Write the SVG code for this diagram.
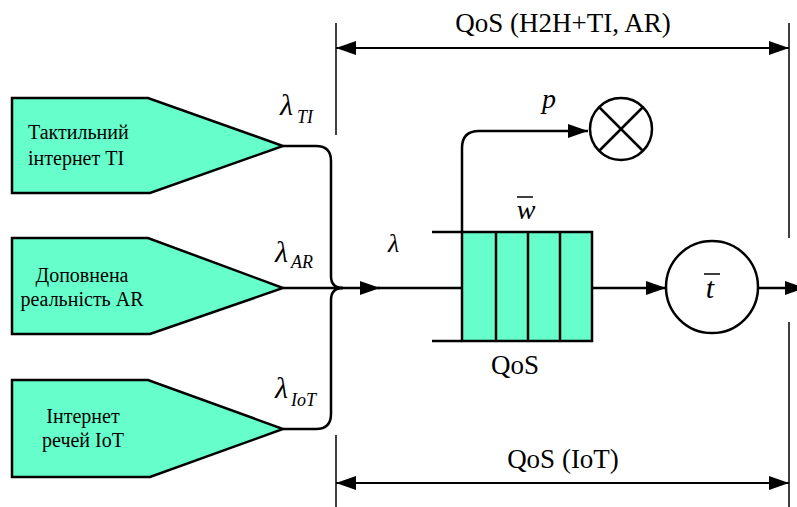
<svg xmlns="http://www.w3.org/2000/svg" width="797" height="507" viewBox="0 0 797 507">
<defs>
<marker id="ah" markerUnits="userSpaceOnUse" markerWidth="22" markerHeight="16" refX="20" refY="7" orient="auto-start-reverse">
<path d="M0,0 L20,7 L0,14 z" fill="#000"/>
</marker>
<style>
.src{fill:#66FFCC;stroke:#000;stroke-width:2.5;stroke-linejoin:miter}
.con{fill:none;stroke:#000;stroke-width:2.5}
.dim{fill:none;stroke:#000;stroke-width:2}
.tick{fill:none;stroke:#000;stroke-width:1.5}
text{font-family:'Liberation Serif','DejaVu Serif',serif}
</style>
</defs>
<rect width="797" height="507" fill="#fff"/>
<g fill="#000">

<g id="src-ti" font-size="20">
<polygon class="src" points="12,98 148,98 283,146 150,193 12,193"/>
<text x="28" y="139">Тактильний</text>
<text x="28" y="165">інтернет TI</text>
</g>
<g id="src-ar" font-size="20">
<polygon class="src" points="12,238 148,238 283,288 150,334 12,334"/>
<text x="82" y="282" text-anchor="middle">Доповнена</text>
<text x="82" y="306" text-anchor="middle">реальність AR</text>
</g>
<g id="src-iot" font-size="20">
<polygon class="src" points="12,380 148,380 283,429 150,477 12,477"/>
<text x="83" y="423" text-anchor="middle">Інтернет</text>
<text x="83" y="447" text-anchor="middle">речей IoT</text>
</g>

<g id="queue">
<rect x="462" y="232" width="130" height="109" fill="#66FFCC" stroke="#000" stroke-width="2.5"/>
<line x1="496" y1="232" x2="496" y2="341" stroke="#000" stroke-width="2.5"/>
<line x1="528" y1="232" x2="528" y2="341" stroke="#000" stroke-width="2.5"/>
<line x1="560" y1="232" x2="560" y2="341" stroke="#000" stroke-width="2.5"/>
<line x1="432" y1="232" x2="462" y2="232" stroke="#000" stroke-width="2.5"/>
<line x1="432" y1="341" x2="462" y2="341" stroke="#000" stroke-width="2.5"/>
<text x="526" y="219" font-size="28" font-style="italic" text-anchor="middle">w</text>
<line x1="517" y1="197" x2="533" y2="197" stroke="#000" stroke-width="1.5"/>
<text x="515" y="374" font-size="27" text-anchor="middle">QoS</text>
</g>

<g id="drop">
<circle cx="621" cy="129" r="31" fill="#fff" stroke="#000" stroke-width="2.5"/>
<line x1="599" y1="107" x2="643" y2="151" stroke="#000" stroke-width="2.5"/>
<line x1="643" y1="107" x2="599" y2="151" stroke="#000" stroke-width="2.5"/>
</g>

<g id="server">
<circle cx="712" cy="287" r="46" fill="#fff" stroke="#000" stroke-width="2.5"/>
<text x="710" y="298" font-size="30" font-style="italic" text-anchor="middle">t</text>
<line x1="704" y1="274" x2="720" y2="274" stroke="#000" stroke-width="1.5"/>
</g>

<g id="connectors">
<path class="con" d="M283,146 H316 Q331,146 331,161 V276 Q331,288 343,288"/>
<path class="con" d="M283,429 H316 Q331,429 331,414 V300 Q331,288 343,288"/>
<path class="con" d="M283,288 H380" marker-end="url(#ah)"/>
<path class="con" d="M378,288 H462"/>
<path class="con" d="M462,232 V148 Q462,131 479,131 H588" marker-end="url(#ah)"/>
<path class="con" d="M592,288 H666" marker-end="url(#ah)"/>
<path class="con" d="M758,288 H805" marker-end="url(#ah)"/>
</g>

<g id="dimensions" font-size="27">
<line class="tick" x1="336" y1="23" x2="336" y2="135"/>
<line class="tick" x1="789" y1="23" x2="789" y2="238"/>
<line class="dim" x1="336" y1="48" x2="789" y2="48" marker-start="url(#ah)" marker-end="url(#ah)"/>
<text x="563" y="32" text-anchor="middle">QoS (H2H+TI, AR)</text>
<line class="tick" x1="336" y1="435" x2="336" y2="507"/>
<line class="tick" x1="789" y1="322" x2="789" y2="507"/>
<line class="dim" x1="336" y1="483" x2="789" y2="483" marker-start="url(#ah)" marker-end="url(#ah)"/>
<text x="563" y="468" text-anchor="middle">QoS (IoT)</text>
</g>

<g id="rates" font-style="italic">
<text x="280" y="115" font-size="30">λ</text>
<text x="297" y="123" font-size="18">TI</text>
<text x="275" y="262" font-size="30">λ</text>
<text x="291" y="268" font-size="18">AR</text>
<text x="275" y="398" font-size="30">λ</text>
<text x="291" y="406" font-size="18">IoT</text>
<text x="388" y="252" font-size="26">λ</text>
<text x="542" y="108" font-size="28">p</text>
</g>
</g>
</svg>
